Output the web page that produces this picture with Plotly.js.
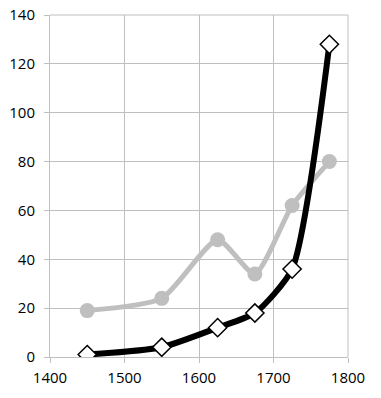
<!DOCTYPE html>
<html><head><meta charset="utf-8">
<script src="https://cdn.plot.ly/plotly-3.0.1.min.js"></script>
<style>html,body{margin:0;padding:0;background:#fff}#c{width:381px;height:398px}</style>
</head><body><div id="c"></div>
<script>
const years = [1450, 1550, 1625, 1675, 1725, 1775];
const graySeries = [19, 24, 48, 34, 62, 80];
const blackSeries = [1, 4, 12, 18, 36, 128];
const xTicks = [1400, 1500, 1600, 1700, 1800];
const yTicks = [0, 20, 40, 60, 80, 100, 120, 140];

const data = [
  {x: years, y: graySeries, type: 'scatter', mode: 'lines+markers',
   line: {color: '#bfbfbf', width: 5, shape: 'spline', smoothing: 0.6},
   marker: {symbol: 'circle', size: 15, color: '#bfbfbf'}},
  {x: years, y: blackSeries, type: 'scatter', mode: 'lines+markers',
   line: {color: '#000000', width: 6, shape: 'spline', smoothing: 0.6},
   marker: {symbol: 'diamond', size: 14, color: '#ffffff', line: {color: '#000000', width: 1.5}}}
];
const layout = {
  width: 381, height: 398,
  margin: {l: 50, r: 33, t: 15, b: 41},
  showlegend: false,
  paper_bgcolor: '#fff', plot_bgcolor: '#fff',
  font: {family: 'Open Sans, sans-serif', size: 15, color: '#000'},
  xaxis: {range: [1400, 1800], tickvals: xTicks, ticktext: xTicks.map(String),
    showgrid: true, gridcolor: '#bfbfbf', gridwidth: 1, zeroline: false,
    showline: true, linecolor: '#bfbfbf', linewidth: 1, mirror: false,
    ticks: 'outside', ticklen: 5, tickcolor: '#bfbfbf', ticklabelstandoff: 2},
  yaxis: {range: [0, 140], tickvals: yTicks, ticktext: yTicks.map(String),
    showgrid: true, gridcolor: '#bfbfbf', gridwidth: 1, zeroline: false,
    showline: true, linecolor: '#bfbfbf', linewidth: 1,
    ticks: 'outside', ticklen: 5, tickcolor: '#bfbfbf', ticklabelstandoff: 6},
  shapes: [{type: 'line', xref: 'paper', yref: 'paper', x0: 1, x1: 1, y0: 0, y1: 1, line: {color: '#bfbfbf', width: 1}},
           {type: 'line', xref: 'paper', yref: 'paper', x0: 0, x1: 1, y0: 1, y1: 1, line: {color: '#bfbfbf', width: 1}}]
};
Plotly.newPlot('c', data, layout, {displayModeBar: false, staticPlot: true});
</script></body></html>
